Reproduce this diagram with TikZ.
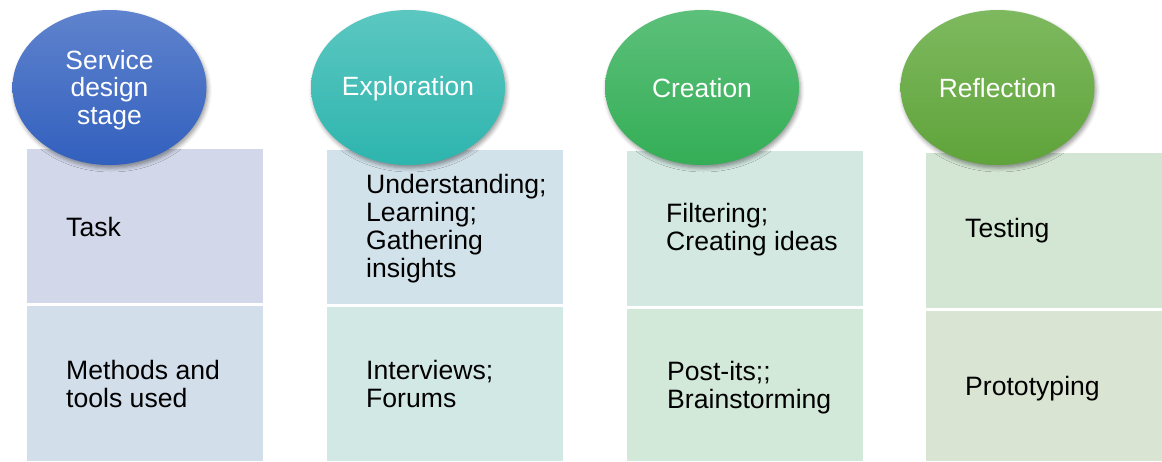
\documentclass[tikz,border=0pt]{standalone}
\usepackage{fontspec}
\setmainfont{Liberation Sans}
\usetikzlibrary{shapes.geometric,shadows.blur}
\definecolor{e1t}{RGB}{95,131,205}
\definecolor{e1b}{RGB}{50,96,190}
\definecolor{e2t}{RGB}{92,199,193}
\definecolor{e2b}{RGB}{45,181,174}
\definecolor{e3t}{RGB}{92,192,122}
\definecolor{e3b}{RGB}{52,174,86}
\definecolor{e4t}{RGB}{126,185,95}
\definecolor{e4b}{RGB}{95,163,58}
\definecolor{f1t}{RGB}{210,216,234}
\definecolor{f1b}{RGB}{210,222,234}
\definecolor{f2t}{RGB}{210,226,234}
\definecolor{f2b}{RGB}{210,232,229}
\definecolor{f3t}{RGB}{210,232,224}
\definecolor{f3b}{RGB}{210,232,216}
\definecolor{f4t}{RGB}{211,230,211}
\definecolor{f4b}{RGB}{217,228,210}
\tikzset{
  cell/.style={draw=none, inner sep=0pt, minimum width=236pt},
  txt/.style={anchor=west, align=left, inner sep=0pt, text=black,
    font=\fontsize{26.6}{28}\selectfont},
  stage/.style={ellipse, draw=none, minimum width=194pt, minimum height=155pt,
    inner sep=0pt, blur shadow={shadow xshift=1.5pt, shadow yshift=-3pt, shadow blur radius=4pt, shadow opacity=40}},
  stagetext/.style={inner sep=0pt, align=center, text=white,
    font=\fontsize{26.4}{27.5}\selectfont}
}
\begin{document}
\begin{tikzpicture}[x=1pt,y=-1pt]
\useasboundingbox (0,0) rectangle (1162,461);
% cells
\node[cell, fill=f1t, minimum height=154pt] (c1t) at (145,226) {};
\node[cell, fill=f1b, minimum height=155pt] (c1b) at (145,383.5) {};
\node[cell, fill=f2t, minimum height=154pt] (c2t) at (445,227) {};
\node[cell, fill=f2b, minimum height=154pt] (c2b) at (445,384) {};
\node[cell, fill=f3t, minimum height=155pt] (c3t) at (745,228.5) {};
\node[cell, fill=f3b, minimum height=152pt] (c3b) at (745,385) {};
\node[cell, fill=f4t, minimum height=155pt] (c4t) at (1044,230.5) {};
\node[cell, fill=f4b, minimum height=150pt] (c4b) at (1044,386) {};
% texts
\node[txt] (t1t) at (66,227) {Task};
\node[txt] (t1b) at (66,384) {Methods and\\tools used};
\node[txt] (t2t) at (366,229) {Understanding;\\Learning;\\Gathering\\insights};
\node[txt] (t2b) at (366,384) {Interviews;\\Forums};
\node[txt] (t3t) at (666,229.5) {Filtering;\\Creating ideas};
\node[txt] (t3b) at (667,387.5) {Post-its;;\\Brainstorming};
\node[txt] (t4t) at (965,231) {Testing};
\node[txt] (t4b) at (965,389) {Prototyping};
% stages
\node[stage, top color=e1t, bottom color=e1b] (s1) at (109.5,87.5) {};
\node[stage, top color=e2t, bottom color=e2b] (s2) at (408,87.5) {};
\node[stage, top color=e3t, bottom color=e3b] (s3) at (702,87.5) {};
\node[stage, top color=e4t, bottom color=e4b] (s4) at (997.5,87.5) {};
\node[stagetext] (l1) at ([yshift=-2.5pt]s1.center) {Service\\design\\stage};
\node[stagetext] (l2) at ([yshift=-1.5pt]s2.center) {Exploration};
\node[stagetext] (l3) at ([yshift=-1pt]s3.center) {Creation};
\node[stagetext] (l4) at ([yshift=-1pt]s4.center) {Reflection};
\end{tikzpicture}
\end{document}
